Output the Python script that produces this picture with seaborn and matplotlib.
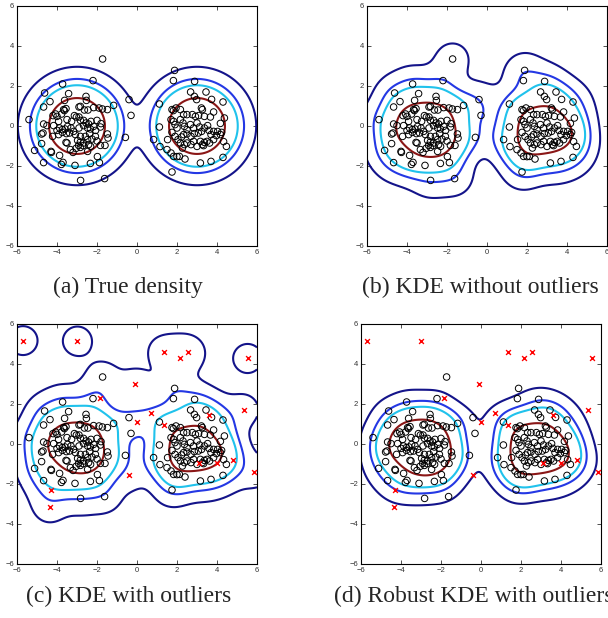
import numpy as np
import matplotlib
matplotlib.use("Agg")
import matplotlib.pyplot as plt
import seaborn as sns

# Inlier samples, left cluster
left_x = [-1.72, -2.20, -3.72, -4.62, -3.42, -2.55, -2.53, -3.62, -4.35, -4.67,
          -3.67, -3.55, -3.63, -2.90, -2.83, -2.63, -2.45, -2.17, -1.90, -1.73,
          -1.48, -1.17, -4.07, -4.20, -3.77, -4.00, -3.13, -3.03, -2.90, -2.83,
          -2.67, -3.92, -3.50, -3.27, -2.30, -2.00, -1.80, -2.42, -2.55, -4.67,
          -4.50, -4.17, -3.87, -3.73, -3.60, -3.47, -3.30, -3.17, -2.90, -2.67,
          -2.47, -2.33, -2.17, -2.07, -1.83, -4.00, -3.73, -4.70, -4.77, -4.22,
          -3.92, -3.53, -3.37, -3.08, -2.83, -2.58, -2.37, -2.08, -1.48, -1.45,
          -3.50, -3.55, -2.97, -2.83, -2.47, -2.25, -2.00, -2.67, -4.77, -2.92,
          -2.83, -2.70, -2.42, -2.32, -1.83, -1.60, -3.33, -3.20, -3.05, -4.30,
          -4.28, -3.87, -5.12, -2.47, -1.98, -4.67, -3.78, -3.70, -3.10, -2.33,
          -1.88, -2.82, -1.62, -5.40, -0.40, -0.30, -0.58]
left_y = [3.35, 2.27, 2.10, 1.65, 1.62, 1.48, 1.28, 1.28, 1.22, 0.95,
          0.82, 0.87, 0.77, 0.95, 0.98, 0.80, 0.80, 0.92, 0.90, 0.85,
          0.82, 1.03, 0.60, 0.52, 0.60, 0.48, 0.52, 0.45, 0.45, 0.28,
          0.28, 0.23, 0.32, 0.23, 0.23, 0.28, 0.12, 0.10, 0.15, 0.10,
          0.02, 0.02, -0.10, -0.18, -0.15, -0.02, -0.10, -0.27, -0.10, 0.02,
          -0.10, -0.15, -0.02, -0.22, -0.05, -0.22, -0.32, -0.35, -0.40, -0.52,
          -0.43, -0.38, -0.35, -0.43, -0.52, -0.52, -0.38, -0.52, -0.40, -0.60,
          -0.85, -0.82, -0.72, -0.80, -0.68, -0.65, -0.75, -0.85, -0.88, -0.97,
          -1.07, -0.98, -0.93, -1.02, -0.97, -0.97, -1.18, -1.32, -1.12, -1.27,
          -1.32, -1.47, -1.22, -1.27, -1.53, -1.83, -1.92, -1.82, -1.97, -1.87,
          -1.83, -2.72, -2.63, 0.32, 1.32, 0.53, -0.57]

# Inlier samples, right cluster
right_x = [1.88, 1.82, 2.88, 2.68, 3.45, 2.87, 2.98, 3.73, 4.30, 1.12,
           3.22, 3.27, 3.83, 3.37, 1.75, 1.82, 1.95, 2.17, 2.33, 2.50,
           2.77, 2.92, 3.08, 3.67, 4.37, 1.70, 1.83, 1.90, 2.17, 2.30,
           2.37, 2.50, 2.67, 2.83, 3.00, 3.13, 3.23, 3.37, 3.53, 3.60,
           3.83, 4.03, 4.17, 4.17, 3.97, 3.70, 3.07, 2.87, 2.70, 2.50,
           2.33, 2.23, 2.00, 1.75, 1.90, 1.12, 4.23, 1.53, 0.83, 2.05,
           2.17, 2.37, 2.50, 2.70, 2.83, 3.17, 3.27, 3.37, 3.50, 3.63,
           3.33, 3.00, 4.33, 4.47, 3.83, 1.15, 1.70, 1.83, 2.00, 2.12,
           2.27, 2.40, 3.17, 3.70, 4.30, 1.75, 1.50]
right_y = [2.78, 2.27, 2.23, 1.70, 1.70, 1.48, 1.32, 1.33, 1.20, 1.10,
           0.90, 0.82, 0.70, 0.48, 0.82, 0.77, 0.90, 0.82, 0.57, 0.57,
           0.57, 0.48, 0.52, 0.45, 0.40, 0.32, 0.23, 0.07, 0.32, 0.15,
           -0.02, -0.18, 0.07, -0.10, 0.15, -0.05, -0.27, -0.10, 0.02, -0.22,
           -0.27, -0.27, 0.13, -0.43, -0.48, -0.43, -0.35, -0.38, -0.52, -0.40,
           -0.43, -0.55, -0.10, -0.32, -0.52, -0.05, -0.32, -0.68, -0.68, -0.68,
           -0.85, -0.93, -0.85, -0.93, -0.77, -0.77, -0.93, -0.82, -0.77, -0.85,
           -0.98, -1.02, -0.78, -1.02, -0.68, -1.03, -1.35, -1.52, -1.53, -1.52,
           -1.10, -1.65, -1.85, -1.77, -1.57, -2.30, -1.18]

# Outliers (red crosses in c and d)
out_x = [-5.70, -2.98, 1.33, 2.15, 2.57, 5.53, -0.08, -1.83, 0.68, 0.00,
         1.35, 3.58, 5.33, -0.42, -4.32, -4.37, 3.08, 4.02, 4.82, 5.87]
out_y = [5.17, 5.15, 4.62, 4.30, 4.60, 4.28, 3.00, 2.28, 1.57, 1.10,
         0.95, 1.45, 1.72, -1.53, -2.32, -3.15, -0.93, -0.93, -0.80, -1.42]

# True mixture: two unit-variance gaussians
true_means = [(-3.0, 0.0), (3.0, 0.0)]
true_sigma = 1.0
bandwidth = 0.6
levels = [0.001, 0.005, 0.01, 0.03]
line_colors = ["#14148a", "#2438e4", "#20c2ec", "#8a1616"]
captions = ["(a) True density", "(b) KDE without outliers",
            "(c) KDE with outliers", "(d) Robust KDE with outliers"]
ticks = [-6, -4, -2, 0, 2, 4, 6]

sns.set_style("ticks")
plt.rcParams["font.family"] = ["Liberation Sans", "DejaVu Sans"]

inliers = np.column_stack([left_x + right_x, left_y + right_y])
outliers = np.column_stack([out_x, out_y])
all_pts = np.vstack([inliers, outliers])

g = np.linspace(-6, 6, 181)
XX, YY = np.meshgrid(g, g)
grid = np.column_stack([XX.ravel(), YY.ravel()])


def gauss(a, b, h):
    d2 = (a ** 2).sum(1)[:, None] + (b ** 2).sum(1)[None, :] - 2 * a @ b.T
    return np.exp(-np.maximum(d2, 0) / (2 * h * h)) / (2 * np.pi * h * h)


def kde(pts, w=None):
    if w is None:
        w = np.ones(len(pts))
    w = np.asarray(w, float) / np.sum(w)
    return (gauss(grid, pts, bandwidth) @ w).reshape(XX.shape)


def robust_weights(pts, n_iter=5):
    # down-weight points that sit in low-density regions
    K = gauss(pts, pts, bandwidth)
    w = np.full(len(pts), 1.0 / len(pts))
    for _ in range(n_iter):
        f = K @ w
        w = np.minimum(1.0, f / np.percentile(f, 35))
        w = w / w.sum()
    return w


densities = [
    (gauss(grid, np.array(true_means), true_sigma) @ np.array([0.5, 0.5])).reshape(XX.shape),
    kde(inliers),
    kde(all_pts),
    kde(all_pts, robust_weights(all_pts)),
]

fig = plt.figure(figsize=(6.08, 6.18), dpi=100)
W, H = 608, 618
boxes = [(17, 6), (367, 6), (17, 324), (361, 324)]
cap_pos = [(128, 293, "center"), (480, 293, "center"),
           (129, 602, "center"), (334, 602, "left")]

for i, dens in enumerate(densities):
    x0, y0 = boxes[i]
    ax = fig.add_axes([x0 / W, 1 - (y0 + 240) / H, 240 / W, 240 / H])
    ax.contour(XX, YY, dens, levels=levels, colors=line_colors, linewidths=1.5)
    sns.scatterplot(x=inliers[:, 0], y=inliers[:, 1], ax=ax, marker="o",
                    facecolors="none", edgecolor="black", s=22, linewidth=0.7,
                    zorder=3)
    if i >= 2:
        sns.scatterplot(x=outliers[:, 0], y=outliers[:, 1], ax=ax, marker="x",
                        color="red", s=12, linewidth=1.0, zorder=4)
    ax.set_xlim(-6, 6)
    ax.set_ylim(-6, 6)
    ax.set_xticks(ticks)
    ax.set_yticks(ticks)
    ax.tick_params(direction="in", length=3, width=0.6, labelsize=5.5,
                   top=True, right=True, pad=2, colors="#333333")
    for sp in ax.spines.values():
        sp.set_linewidth(0.8)
        sp.set_color("black")
    cx, cy, ha = cap_pos[i]
    fig.text(cx / W, 1 - cy / H, captions[i], ha=ha, va="baseline",
             fontsize=17, family="Liberation Serif")

fig.savefig("out.png", dpi=100)
